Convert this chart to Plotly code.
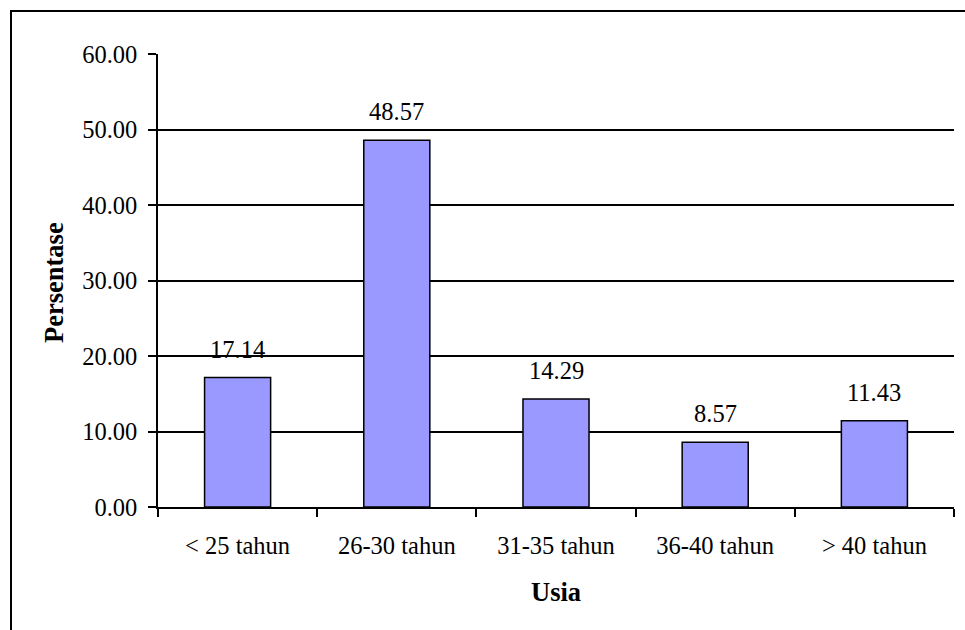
import plotly.graph_objects as go

# Age groups and their share of respondents (%)
categories = ["< 25 tahun", "26-30 tahun", "31-35 tahun", "36-40 tahun", "> 40 tahun"]
percentages = [17.14, 48.57, 14.29, 8.57, 11.43]
y_ticks = [0, 10, 20, 30, 40, 50, 60]

FONT = "'Liberation Serif', 'Times New Roman', Times, serif"
FS = 24.5        # tick and value labels
FS_TITLE = 26.5  # axis titles
W, H = 965, 630
ML, MR, MT, MB = 158, 11, 54, 123
plot_w = W - ML - MR
plot_h = H - MT - MB

fig = go.Figure()
fig.add_trace(go.Bar(
    x=categories,
    y=percentages,
    width=0.415,
    marker=dict(color="#9999FF", line=dict(color="black", width=1.5)),
    hoverinfo="x+y",
))

# value labels above each bar
for c, v in zip(categories, percentages):
    fig.add_annotation(
        x=c, y=v, text=f"{v:.2f}", showarrow=False,
        xref="x", yref="y", yanchor="bottom", yshift=13,
        font=dict(family=FONT, size=FS, color="black"),
    )

# axis titles
fig.add_annotation(
    x=0.5, y=-(592 - (H - MB)) / plot_h,
    xref="paper", yref="paper", text="<b>Usia</b>", showarrow=False,
    xanchor="center", yanchor="middle",
    font=dict(family=FONT, size=FS_TITLE, color="black"),
)
fig.add_annotation(
    x=-(ML - 54) / plot_w, y=0.5 - (282 - (MT + plot_h / 2)) / plot_h,
    xref="paper", yref="paper", text="<b>Persentase</b>", showarrow=False,
    textangle=-90, xanchor="center", yanchor="middle",
    font=dict(family=FONT, size=FS_TITLE, color="black"),
)

# chart frame
fig.add_shape(
    type="rect", xref="paper", yref="paper",
    x0=-(ML - 11) / plot_w, x1=(W + 10 - ML) / plot_w,
    y0=-(MB + 10) / plot_h, y1=(H - MB - 11) / plot_h,
    line=dict(color="black", width=2), fillcolor="rgba(0,0,0,0)", layer="below",
)

fig.update_layout(
    width=W, height=H,
    margin=dict(l=ML, r=MR, t=MT, b=MB, pad=0),
    paper_bgcolor="white", plot_bgcolor="white",
    showlegend=False,
    font=dict(family=FONT, size=FS, color="black"),
)
fig.update_xaxes(
    type="category",
    showline=True, linecolor="black", linewidth=1.6,
    ticks="outside", ticklen=8, tickwidth=1.6, tickcolor="black",
    tickson="boundaries", showgrid=False,
    ticklabelstandoff=16,
    tickfont=dict(family=FONT, size=FS, color="black"),
)
fig.update_yaxes(
    range=[0, 60], tickvals=y_ticks, tickformat=".2f",
    showline=True, linecolor="black", linewidth=1.6,
    ticks="outside", ticklen=8, tickwidth=1.6, tickcolor="black",
    showgrid=True, gridcolor="black", gridwidth=1.6,
    zeroline=False,
    ticklabelstandoff=6,
    tickfont=dict(family=FONT, size=FS, color="black"),
)

fig.write_html("out.html")
